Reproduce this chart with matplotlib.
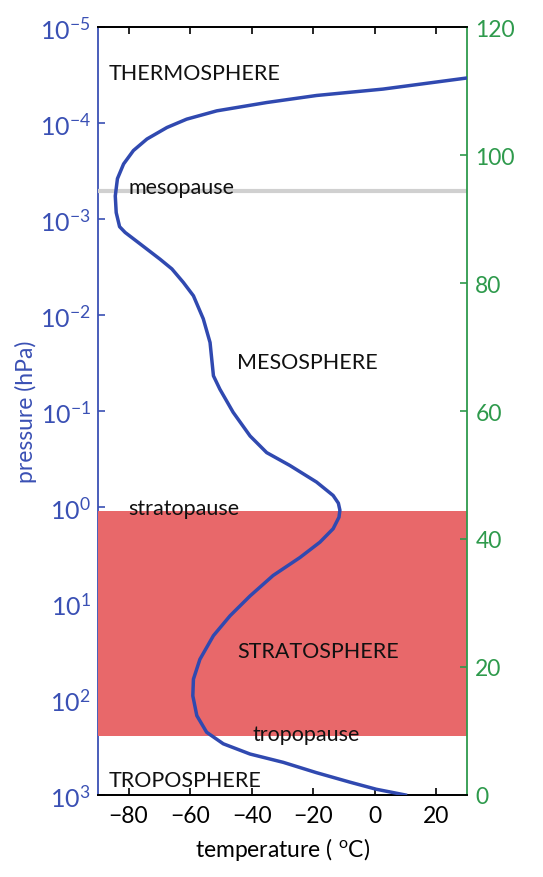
import matplotlib
matplotlib.use('Agg')
import matplotlib.pyplot as plt

plt.rcParams['font.family'] = ['Lato', 'DejaVu Sans']
plt.rcParams['mathtext.fontset'] = 'custom'
plt.rcParams['mathtext.rm'] = 'Lato'
plt.rcParams['mathtext.default'] = 'regular'

BLUE = '#3a50b4'
LINE = '#3049b0'
GREEN = '#2e9a4c'
RED = '#e8686a'

# temperature profile (altitude in km, temperature in deg C)
alt_km = [0, 0.9, 2.0, 3.5, 5.1, 6.4, 8.0, 9.8, 12.4, 15.5, 18.1, 21.2, 24.9,
          28.0, 31.1, 34.3, 37.1, 39.5, 41.6, 43.4, 44.5, 45.6, 46.8, 48.9,
          51.5, 53.5, 56.1, 59.8, 63.4, 65.5, 70.7, 74.4, 78.0, 80.1, 82.2,
          83.7, 86.1, 87.9, 88.8, 91.0, 93.6, 96.3, 98.6, 100.7, 102.5, 104.3,
          105.6, 106.9, 108.2, 109.3, 110.3, 112.1]
temp_c = [10, 0.5, -8, -19, -29.7, -40.5, -49.2, -54.6, -57.8, -59.1, -58.9,
          -56.8, -52.4, -47.0, -40.5, -33.0, -24.3, -17.8, -13.5, -11.6, -11.3,
          -11.8, -13.5, -18.9, -27.6, -35.1, -40.5, -46.0, -50.3, -52.4, -53.5,
          -55.7, -58.9, -62.2, -65.9, -69.7, -76.2, -81.1, -82.9, -84.0, -84.3,
          -83.6, -81.6, -78.4, -74.0, -67.5, -61.1, -51.3, -35.1, -18.9, 2.7,
          31]

strat_bottom, strat_top = 9.2, 44.4   # km
mesopause = 94.4                      # km

p_exp = [-5, -4, -3, -2, -1, 0, 1, 2, 3]
alt_ticks = [0, 20, 40, 60, 80, 100, 120]
t_ticks = [-80, -60, -40, -20, 0, 20]

layers = [
    ('THERMOSPHERE', -86.5, 112.8),
    ('mesopause', -80, 95.0),
    ('MESOSPHERE', -44.8, 67.7),
    ('stratopause', -80, 44.9),
    ('STRATOSPHERE', -44.8, 22.5),
    ('tropopause', -39.6, 9.6),
    ('TROPOSPHERE', -86.6, 2.3),
]

fig = plt.figure(figsize=(5.43, 8.78), dpi=100)
ax = fig.add_axes([0.180, 0.0934, 0.680, 0.8747])
ax.set_yscale('log')
ax.set_ylim(1e3, 1e-5)
ax.set_xlim(-90, 30)
ax.set_yticks([10.0 ** e for e in p_exp])
ax.set_yticklabels(['$10^{%d}$' % e for e in p_exp])
ax.minorticks_off()
ax.set_xticks(t_ticks)
ax.tick_params(axis='y', direction='in', colors=BLUE, right=True, length=5,
               width=1.2, labelsize=18, pad=5)
ax.tick_params(axis='x', direction='in', top=True, length=5, width=1.2,
               labelsize=16.5, pad=7)
ax.set_ylabel('pressure (hPa)', color=BLUE, fontsize=16.5, labelpad=2)
ax.set_xlabel('temperature ( $^{o}$C)', fontsize=16.5, labelpad=7)

ax2 = ax.twinx()
ax2.set_ylim(0, 120)
ax2.set_yticks(alt_ticks)
ax2.tick_params(axis='y', direction='in', colors=GREEN, length=5, width=1.2,
                labelsize=16.5, pad=6)

ax2.axhspan(strat_bottom, strat_top, color=RED, lw=0, zorder=1)
ax2.axhline(mesopause, color='#d0d0d0', lw=3, zorder=1)
ax2.plot(temp_c, alt_km, color=LINE, lw=2.5, zorder=3, solid_joinstyle='round')

for name, t, z in layers:
    ax2.text(t, z, name, fontsize=15.5, va='center', ha='left', color='#111111', zorder=4)

for a in (ax, ax2):
    a.spines['top'].set_color('black')
    a.spines['bottom'].set_color('black')
    a.spines['left'].set_color(BLUE)
    a.spines['right'].set_color(GREEN)
    for s in a.spines.values():
        s.set_linewidth(1.3)
ax2.spines['left'].set_visible(False)
ax.spines['right'].set_visible(False)

fig.savefig('out.png', dpi=100)
